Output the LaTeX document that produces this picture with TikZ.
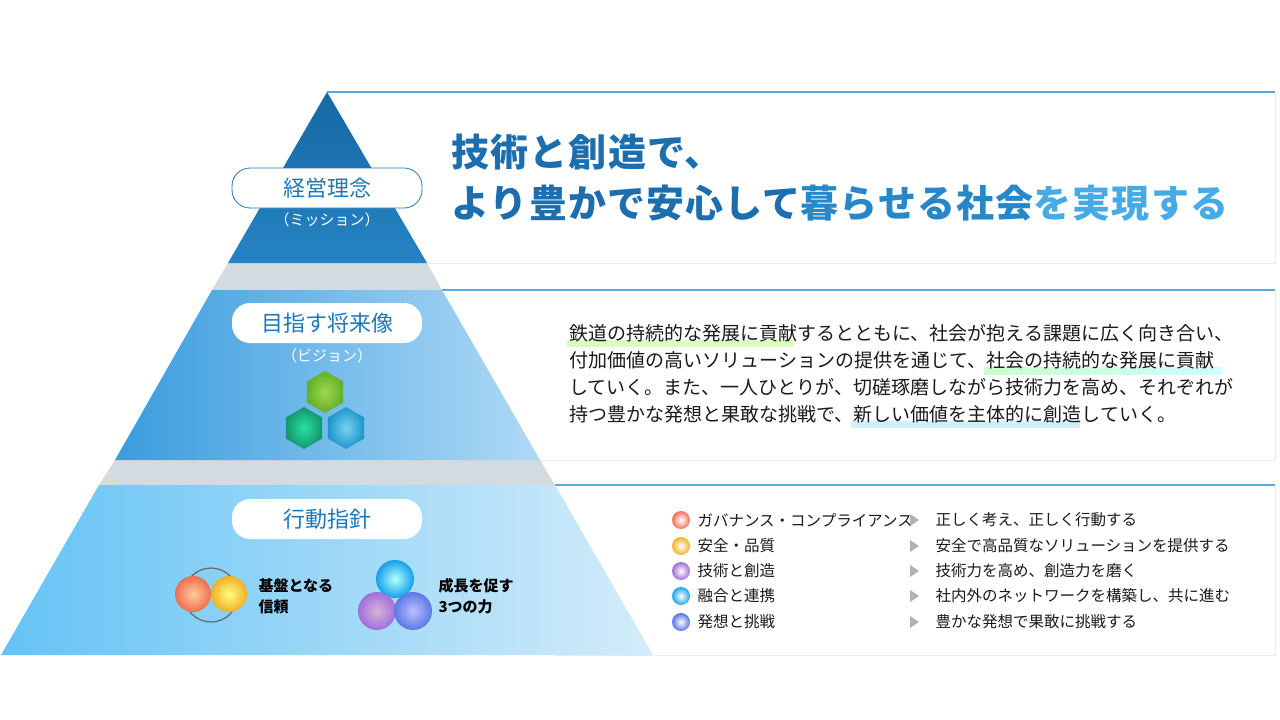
\documentclass[tikz,border=0pt]{standalone}
\usepackage{fontspec}
\setmainfont{Noto Sans CJK JP}
\usetikzlibrary{shapes.geometric}
\definecolor{dblue}{HTML}{1A7CC0}
\definecolor{tblue}{HTML}{1F78B8}
\definecolor{gband}{HTML}{D3DBE0}
\definecolor{ptxt}{HTML}{1A1A1A}
\definecolor{hA}{RGB}{28,110,175}
\definecolor{hB}{RGB}{40,135,200}
\definecolor{hC}{RGB}{70,170,230}
\tikzset{
 pill/.style={rounded corners=18pt,fill=white,minimum width=190pt,minimum height=40pt,text=tblue,font=\fontsize{22}{22}\selectfont},
 sub/.style={text=white,font=\fontsize{15}{15}\selectfont},
 para/.style={anchor=west,text=ptxt,font=\fontsize{19}{19}\selectfont},
 item/.style={anchor=west,text=ptxt,font=\fontsize{15.5}{15.5}\selectfont},
 panel/.style={fill=white,draw=black!8},
 topline/.style={draw={rgb,255:red,90;green,170;blue,225},line width=2.5pt},
 dot/.style={circle,minimum size=18pt,inner sep=0pt,shading=radial},
}
\begin{document}
\begin{tikzpicture}[x=1pt,y=-1pt]
\useasboundingbox (0,0) rectangle (1280,720);
\fill[white] (0,0) rectangle (1280,720);
% panels
\draw[panel] (327,92) rectangle (1275,263);
\draw[topline] (327,92) -- (1275,92);
\draw[panel] (440,290) rectangle (1275,460);
\draw[topline] (440,290) -- (1275,290);
\draw[panel] (555,485) rectangle (1275,655);
\draw[topline] (555,485) -- (1275,485);
% bands
\fill[gband] (228,263) -- (427,263) -- (442,290) -- (212,290) -- cycle;
\fill[gband] (115,460) -- (540,460) -- (555,485) -- (99,485) -- cycle;
% pyramid
\shade[top color=dblue!85!black, bottom color=dblue!95] (327,92) -- (427,263) -- (228,263) -- cycle;
\shade[shading angle=-60, left color={rgb,255:red,58;green,156;blue,222}, right color={rgb,255:red,175;green,218;blue,246}] (212,290) -- (442,290) -- (540,460) -- (115,460) -- cycle;
\shade[shading angle=-70, left color={rgb,255:red,100;green,195;blue,245}, right color={rgb,255:red,212;green,236;blue,250}] (99,485) -- (555,485) -- (653,655) -- (1,655) -- cycle;
% labels
\node[pill,draw=tblue,line width=0.8pt] (m) at (327,188) {経営理念};
\node[sub] (ms) at (327,220) {（ミッション）};
\node[pill] (v) at (327,323) {目指す将来像};
\node[sub] (vs) at (327,356) {（ビジョン）};
\node[pill] (a) at (327,519) {行動指針};
% hexagons
\foreach \cx/\cy/\ci/\co in {325/392/{rgb,255:red,160;green,215;blue,80}/{rgb,255:red,100;green,175;blue,40}, 304/428/{rgb,255:red,40;green,225;blue,160}/{rgb,255:red,20;green,150;blue,110}, 346/428/{rgb,255:red,120;green,210;blue,240}/{rgb,255:red,30;green,150;blue,205}}
 \shade[inner color=\ci, outer color=\co] (\cx,\cy) +(90:21) -- +(150:21) -- +(210:21) -- +(270:21) -- +(330:21) -- +(30:21) -- cycle;
% circles
\draw[gray!80!black,line width=1.2pt] (211,595) circle (27);
\shade[inner color=orange!40!white, outer color={rgb,255:red,240;green,110;blue,80}] (193,594) circle (18);
\shade[inner color=yellow!50!white, outer color={rgb,255:red,240;green,175;blue,40}] (229,594) circle (18);
\node[anchor=west,font=\bfseries\fontsize{15}{15}\selectfont,align=left] (t1) at (255,596) {基盤となる\\[6pt]信頼};
\draw[gray!80!black,line width=1.2pt] (395,575) -- (373,614) -- (417,614) -- cycle;
\shade[inner color=cyan!30!white, outer color={rgb,255:red,20;green,160;blue,235}] (395,579) circle (19);
\shade[inner color=violet!30!white, outer color={rgb,255:red,160;green,110;blue,220}] (377,611) circle (19);
\shade[inner color=blue!25!white, outer color={rgb,255:red,90;green,120;blue,230}] (413,611) circle (19);
\node[anchor=west,font=\bfseries\fontsize{15}{15}\selectfont,align=left] (t2) at (435,596) {成長を促す\\[6pt]3つの力};
% heading
\node[anchor=west,font=\bfseries\fontsize{38}{38}\selectfont\addfontfeature{LetterSpace=3},text=hA] (h1) at (448,152) {技術と創造で、};
\node[anchor=west,font=\bfseries\fontsize{38}{38}\selectfont\addfontfeature{LetterSpace=3}] (h2) at (448,203) {\textcolor{hA}{より豊かで安心して}\textcolor{hB}{暮らせる社会}\textcolor{hC}{を実現する}};
% highlights
\fill[green!40!lime!25] (567,340) rectangle (794,347);
\shade[left color=green!20, right color=cyan!20] (984,367) rectangle (1222,374);
\fill[cyan!18] (851,421) rectangle (1080,428);
% paragraph
\node[para] (p1) at (566,333) {鉄道の持続的な発展に貢献するとともに、社会が抱える課題に広く向き合い、};
\node[para] (p2) at (566,360) {付加価値の高いソリューションの提供を通じて、社会の持続的な発展に貢献};
\node[para] (p3) at (566,387) {していく。また、一人ひとりが、切磋琢磨しながら技術力を高め、それぞれが};
\node[para] (p4) at (566,414) {持つ豊かな発想と果敢な挑戦で、新しい価値を主体的に創造していく。};
% list
\foreach \y/\c/\l/\s [count=\i] in {
 520/{rgb,255:red,240;green,115;blue,85}/ガバナンス・コンプライアンス/正しく考え、正しく行動する,
 546/{rgb,255:red,240;green,180;blue,40}/安全・品質/安全で高品質なソリューションを提供する,
 571/{rgb,255:red,160;green,110;blue,215}/技術と創造/技術力を高め、創造力を磨く,
 596/{rgb,255:red,30;green,165;blue,235}/融合と連携/社内外のネットワークを構築し、共に進む,
 622/{rgb,255:red,90;green,115;blue,230}/発想と挑戦/豊かな発想で果敢に挑戦する}{
 \node[dot,inner color=white,outer color=\c] (d\i) at (681,\y) {};
 \node[item] (l\i) at (694,\y) {\l};
 \fill[gray!60] (910,\y-6) -- (919,\y) -- (910,\y+6) -- cycle;
 \node[item] (s\i) at (932,\y) {\s};
}
\end{tikzpicture}
\end{document}
